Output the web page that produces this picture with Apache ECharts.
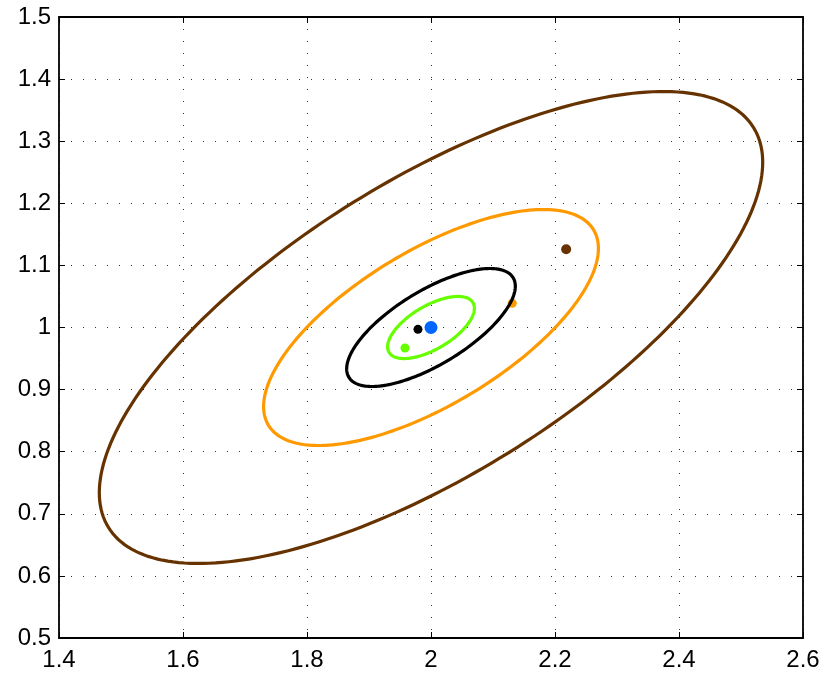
<!DOCTYPE html>
<html>
<head>
<meta charset="utf-8">
<script src="https://cdn.jsdelivr.net/npm/echarts@6/dist/echarts.min.js"></script>
<style>
  html, body { margin: 0; padding: 0; background: #fff; }
  #chart { width: 824px; height: 676px; }
</style>
</head>
<body>
<div id="chart"></div>
<script>
// Confidence ellipses (all centred on the true mean) and the estimated means.
const ellipseColors      = ['#663300', '#ff9900', '#000000', '#66ff00'];
const ellipseCenterX     = [2.0, 2.0, 2.0, 2.0];
const ellipseCenterY     = [1.0, 1.0, 1.0, 1.0];
const ellipseHalfWidth   = [0.535, 0.270, 0.136, 0.070];
const ellipseHalfHeight  = [0.380, 0.190, 0.095, 0.050];
const ellipseCorrelation = [0.70, 0.67, 0.70, 0.62];

const meanColors = ['#663300', '#ff9900', '#000000', '#66ff00', '#0066ff'];
const meanX      = [2.218, 2.131, 1.979, 1.958, 2.000];
const meanY      = [1.126, 1.039, 0.997, 0.967, 1.000];
const meanSizes  = [10, 9, 9, 9, 13];

const xTicks = { min: 1.4, max: 2.6, interval: 0.2 };
const yTicks = { min: 0.5, max: 1.5, interval: 0.1 };

const chart = echarts.init(document.getElementById('chart'), null, { renderer: 'canvas' });

const labelFont = { fontFamily: 'Liberation Sans, Arial, sans-serif', fontSize: 24, color: '#000' };
const gridDots = { show: true, lineStyle: { color: '#333', width: 1, type: [1, 11] } };

function fmt(v) {
  return String(parseFloat(v.toFixed(2)));
}

function ellipseSeries(i) {
  return {
    type: 'custom',
    z: 2 + i * 2,
    silent: true,
    clip: false,
    data: [[ellipseCenterX[i], ellipseCenterY[i]]],
    renderItem: function (params, api) {
      const cx = api.value(0), cy = api.value(1);
      const sx = ellipseHalfWidth[i], sy = ellipseHalfHeight[i], r = ellipseCorrelation[i];
      const q = Math.sqrt(1 - r * r);
      const pts = [];
      const n = 240;
      for (let k = 0; k < n; k++) {
        const t = 2 * Math.PI * k / n;
        pts.push(api.coord([cx + sx * Math.cos(t), cy + sy * (r * Math.cos(t) + q * Math.sin(t))]));
      }
      return {
        type: 'polygon',
        shape: { points: pts },
        style: { fill: null, stroke: ellipseColors[i], lineWidth: 3.2 }
      };
    }
  };
}

function meanSeries(i, z) {
  return {
    type: 'scatter',
    z: z,
    silent: true,
    symbol: 'circle',
    symbolSize: meanSizes[i],
    itemStyle: { color: meanColors[i], opacity: 1 },
    data: [[meanX[i], meanY[i]]]
  };
}

const series = [];
// each ellipse is followed by its own mean, the true mean goes on top
for (let i = 0; i < 4; i++) {
  series.push(ellipseSeries(i));
  series.push(meanSeries(i, 3 + i * 2));
}
series.push(meanSeries(4, 20));

const axisLine = { show: true, onZero: false, lineStyle: { color: '#000', width: 1.8 } };
const tickIn = { show: true, inside: true, length: 6, lineStyle: { color: '#000', width: 1 } };

chart.setOption({
  animation: false,
  backgroundColor: '#fff',
  grid: { left: 59, right: 21, top: 17, bottom: 38, show: false },
  xAxis: [
    {
      type: 'value', position: 'bottom', ...xTicks,
      axisLine: axisLine, axisTick: tickIn,
      axisLabel: { ...labelFont, margin: 10, formatter: fmt },
      splitLine: gridDots
    },
    {
      type: 'value', position: 'top', ...xTicks,
      axisLine: axisLine, axisTick: tickIn,
      axisLabel: { show: false }, splitLine: { show: false }
    }
  ],
  yAxis: [
    {
      type: 'value', position: 'left', ...yTicks,
      axisLine: axisLine, axisTick: tickIn,
      axisLabel: { ...labelFont, margin: 8, formatter: fmt },
      splitLine: gridDots
    },
    {
      type: 'value', position: 'right', ...yTicks,
      axisLine: axisLine, axisTick: tickIn,
      axisLabel: { show: false }, splitLine: { show: false }
    }
  ],
  series: series
});
</script>
</body>
</html>
